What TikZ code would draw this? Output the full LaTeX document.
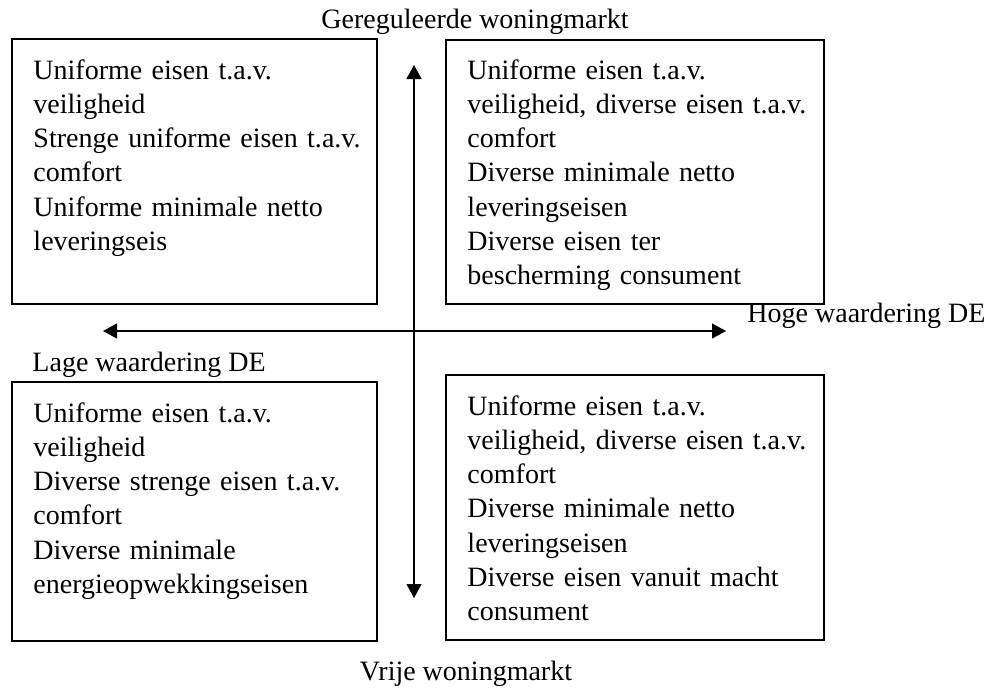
\documentclass[tikz,border=0pt]{standalone}
\usepackage{fontspec}
\setmainfont{Liberation Serif}
\usetikzlibrary{arrows.meta, positioning}
\tikzset{
  eisbox/.style ={draw, line width=0.85pt},
  eistxt/.style ={anchor=base west, inner sep=0pt, text width=5.6cm, align=left, font=\fontsize{12}{14.7}\selectfont},
  aslbl/.style  ={inner sep=0pt, font=\fontsize{12}{14.7}\selectfont},
  as/.style     ={{Triangle[length=6pt, width=6.4pt]}-{Triangle[length=6pt, width=6.4pt]}, line width=0.6pt},
}

\begin{document}
\begin{tikzpicture}[x=0.01506cm, y=-0.01506cm]
  \useasboundingbox (0,0) rectangle (996,687);

  % axes
  \coordinate (links)  at (103,331);
  \coordinate (rechts) at (726,331);
  \coordinate (boven)  at (414,65);
  \coordinate (onder)  at (414,598);
  \draw[as] (links) -- (rechts);
  \draw[as] (boven) -- (onder);

  % axis labels
  \node[aslbl, anchor=base]      (gereg) at (475,28)  {Gereguleerde woningmarkt};
  \node[aslbl, anchor=base]      (vrij)  at (466,680) {Vrije woningmarkt};
  \node[aslbl, anchor=base west] (hoog)  at (747,322) {Hoge waardering DE};
  \node[aslbl, anchor=base west] (laag)  at (32,371)  {Lage waardering DE};

  % TOP LEFT
  \draw[eisbox] (12,39) rectangle (377,304);
  \node[eistxt] (lb) at (33,79)
    {Uniforme eisen t.a.v.\\ veiligheid\\ Strenge uniforme eisen t.a.v.\\ comfort\\
     Uniforme minimale netto\\ leveringseis};

  % TOP RIGHT
  \draw[eisbox] (446,40) rectangle (824,304);
  \node[eistxt] (rb) at (467,79)
    {Uniforme eisen t.a.v.\\ veiligheid, diverse eisen t.a.v.\\ comfort\\
     Diverse minimale netto\\ leveringseisen\\ Diverse eisen ter\\ bescherming consument};

  % BOTTOM LEFT
  \draw[eisbox] (12,382) rectangle (377,641);
  \node[eistxt] (lo) at (33,422)
    {Uniforme eisen t.a.v.\\ veiligheid\\ Diverse strenge eisen t.a.v.\\ comfort\\
     Diverse minimale\\ energieopwekkingseisen};

  % BOTTOM RIGHT
  \draw[eisbox] (446,375) rectangle (824,640);
  \node[eistxt] (ro) at (467,415)
    {Uniforme eisen t.a.v.\\ veiligheid, diverse eisen t.a.v.\\ comfort\\
     Diverse minimale netto\\ leveringseisen\\ Diverse eisen vanuit macht\\ consument};
\end{tikzpicture}
\end{document}
